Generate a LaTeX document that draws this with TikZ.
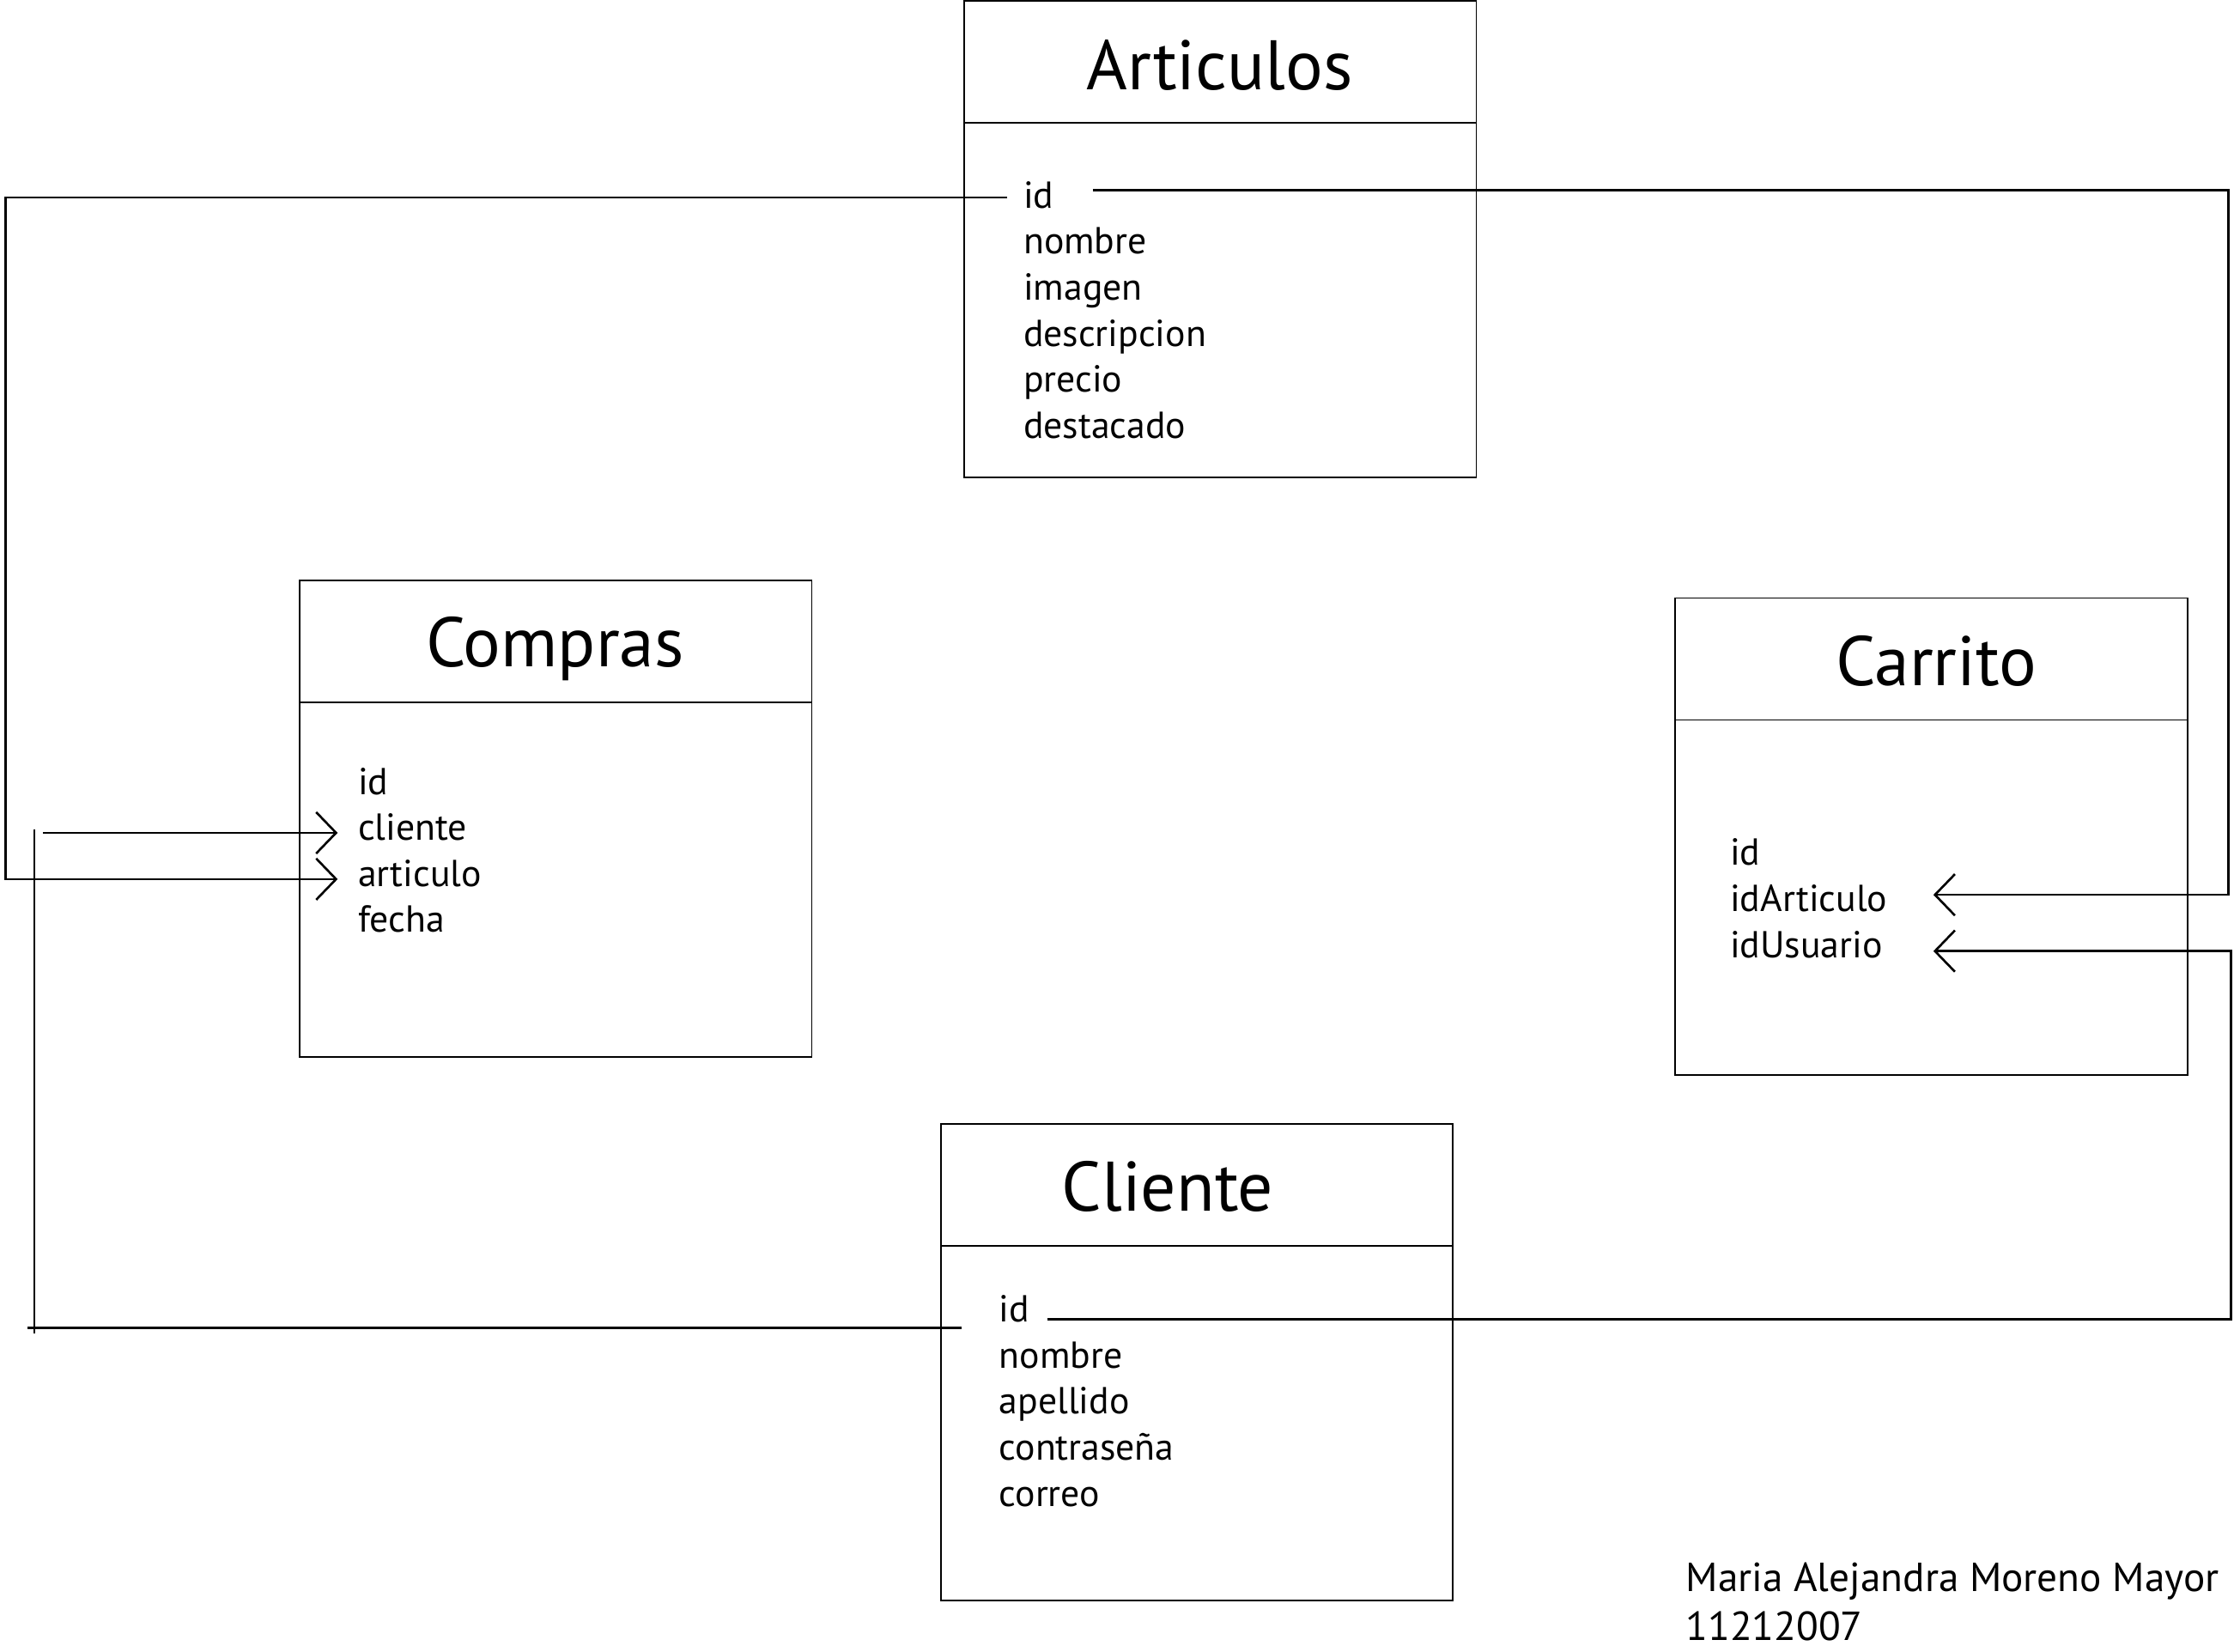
\documentclass[tikz,border=0pt]{standalone}
\usepackage{fontspec}
\setmainfont{PT Sans}
\usetikzlibrary{arrows.meta}

\begin{document}
\begin{tikzpicture}[x=0.2mm, y=-0.2mm,
		entity/.style={draw, line width=0.6pt, minimum width=71.9mm, minimum height=66.9mm, inner sep=0pt, outer sep=0pt},
		title/.style={anchor=base, inner sep=0pt, font=\fontsize{28}{34}\selectfont},
		field/.style={anchor=base west, inner sep=0pt, font=\fontsize{15}{18}\selectfont},
		link/.style={line width=0.9pt},
		tip/.style={-{Straight Barb[length=2.8mm,width=5.8mm,line width=0.9pt]}}]
		\useasboundingbox (0,0) rectangle (1568,1159);
		
		% tablas
		\node[entity] (articulos) at (856.5,168) {};
		\node[entity] (compras) at (390,574.5) {};
		\node[entity] (carrito) at (1355.5,587) {};
		\node[entity] (cliente) at (840,956) {};
		\foreach \t in {articulos,compras,carrito,cliente}
			\draw[line width=0.6pt] ([yshift=-17.1mm]\t.north west) -- ([yshift=-17.1mm]\t.north east);
		
		\node[title] (t-art) at (856,62.7) {Articulos};
		\node[title] (t-comp) at (389.5,468) {Compras};
		\node[title] (t-car) at (1359,481) {Carrito};
		\node[title] (t-cli) at (819.5,850) {Cliente};
		
		% Articulos
		\node[field] (art-id) at (718,146) {id};
		\node[field] (art-nombre) at (718,178.3) {nombre};
		\node[field] (art-imagen) at (718,210.6) {imagen};
		\node[field] (art-desc) at (718,242.9) {descripcion};
		\node[field] (art-precio) at (718,275.2) {precio};
		\node[field] (art-dest) at (718,307.5) {destacado};
		
		% Compras
		\node[field] (comp-id) at (251,557.6) {id};
		\node[field] (comp-cliente) at (251,589.8) {cliente};
		\node[field] (comp-articulo) at (251,622) {articulo};
		\node[field] (comp-fecha) at (251,654.2) {fecha};
		
		% Carrito
		\node[field] (car-id) at (1214,607) {id};
		\node[field] (car-articulo) at (1214,639.5) {idArticulo};
		\node[field] (car-usuario) at (1214,672) {idUsuario};
		
		% Cliente
		\node[field] (cli-id) at (701,927.6) {id};
		\node[field] (cli-nombre) at (701,960) {nombre};
		\node[field] (cli-apellido) at (701,992.4) {apellido};
		\node[field] (cli-pass) at (701,1024.8) {contraseña};
		\node[field] (cli-correo) at (701,1057.2) {correo};
		
		\node[anchor=base west, inner sep=0pt, font=\fontsize{16.2}{20}\selectfont] (autor) at (1183,1117) {Maria Alejandra Moreno Mayor};
		\node[anchor=base west, inner sep=0pt, font=\fontsize{16.2}{20}\selectfont] (codigo) at (1183,1151) {11212007};
		
		% puntos de las relaciones
		\coordinate (art-idL) at (707,138.5);
		\coordinate (art-idR) at (767,133.5);
		\coordinate (cli-idL) at (675,932);
		\coordinate (cli-idR) at (735,926);
		\coordinate (comp-cli-tip) at (237,584.5);
		\coordinate (comp-art-tip) at (237,617);
		\coordinate (car-art-tip) at (1357,628);
		\coordinate (car-usu-tip) at (1357,667.5);
		\coordinate (cli-down) at (24,936);
		\coordinate (cli-up) at (24,582);
		\coordinate (cli-start) at (30,584.5);
		\coordinate (cli-end) at (19,932);
		
		\draw[link, tip] (art-idL) -| (4,617) -- (comp-art-tip);
		\draw[link] (cli-idL) -- (cli-end);
		\draw[link] (cli-down) -- (cli-up);
		\draw[link, tip] (cli-start) -- (comp-cli-tip);
		\draw[link, tip] (art-idR) -| (1564,628) -- (car-art-tip);
		\draw[link, tip] (cli-idR) -| (1566,667.5) -- (car-usu-tip);
	\end{tikzpicture}
\end{document}
